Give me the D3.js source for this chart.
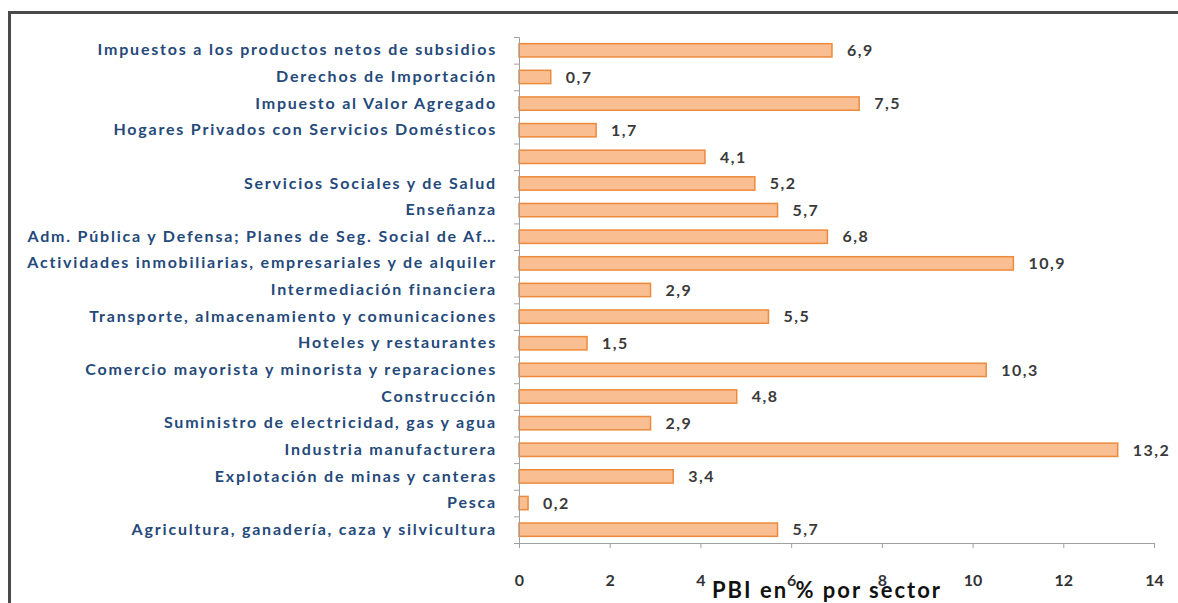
<!DOCTYPE html>
<html>
<head>
<meta charset="utf-8">
<script src="https://cdn.jsdelivr.net/npm/d3@7"></script>
<style>
  body { margin: 0; background: #fff; }
  svg { display: block; }
</style>
</head>
<body>
<div id="graph"></div>
<script>
// Categories, top to bottom
var sectors = [
  "Impuestos a los productos netos de subsidios",
  "Derechos de Importación",
  "Impuesto al Valor Agregado",
  "Hogares Privados con Servicios Domésticos",
  "",
  "Servicios Sociales y de Salud",
  "Enseñanza",
  "Adm. Pública y Defensa; Planes de Seg. Social de Af…",
  "Actividades inmobiliarias, empresariales y de alquiler",
  "Intermediación financiera",
  "Transporte, almacenamiento y comunicaciones",
  "Hoteles y restaurantes",
  "Comercio mayorista y minorista y reparaciones",
  "Construcción",
  "Suministro de electricidad, gas y agua",
  "Industria manufacturera",
  "Explotación de minas y canteras",
  "Pesca",
  "Agricultura, ganadería, caza y silvicultura"
];
var values = [6.9, 0.7, 7.5, 1.7, 4.1, 5.2, 5.7, 6.8, 10.9, 2.9, 5.5, 1.5, 10.3, 4.8, 2.9, 13.2, 3.4, 0.2, 5.7];
var xTicks = [0, 2, 4, 6, 8, 10, 12, 14];
var axisTitle = "PBI en % por sector";

var W = 1178, H = 603;
var margin = { top: 37, right: 24, bottom: 60, left: 519 },
    width = 635,
    height = 506;

var svg = d3.select("#graph").append("svg")
    .attr("width", W)
    .attr("height", H);

// chart frame
svg.append("rect")
    .attr("x", 9.5).attr("y", 12.5)
    .attr("width", W + 20).attr("height", H + 20)
    .attr("fill", "none")
    .attr("stroke", "#4a4a4a")
    .attr("stroke-width", 3);

var g = svg.append("g")
    .attr("transform", "translate(" + margin.left + "," + margin.top + ")");

var idx = d3.range(sectors.length);
var x = d3.scaleLinear().domain([0, 14]).range([0, width]);
var y = d3.scaleBand().domain(idx).range([0, height]).paddingInner(0.5).paddingOuter(0.25);
var yEdge = d3.scaleLinear().domain([0, sectors.length]).range([0, height]);

// bars
g.selectAll("rect.bar")
    .data(idx)
  .enter().append("rect")
    .attr("class", "bar")
    .attr("x", x(0))
    .attr("y", function(i) { return y(i); })
    .attr("width", function(i) { return x(values[i]); })
    .attr("height", y.bandwidth())
    .attr("fill", "#f9bf92")
    .attr("stroke", "#ee8a3c")
    .attr("stroke-width", 1.5);

// value labels
g.selectAll("text.val")
    .data(idx)
  .enter().append("text")
    .attr("class", "val")
    .attr("x", function(i) { return x(values[i]) + 15; })
    .attr("y", function(i) { return y(i) + y.bandwidth() / 2; })
    .attr("dy", "0.36em")
    .attr("font-family", "Lato, sans-serif")
    .attr("font-weight", "bold")
    .attr("font-size", 16)
    .attr("letter-spacing", 1.5)
    .attr("fill", "#3a3a3a")
    .text(function(i) { return String(values[i]).replace(".", ","); });

// Y axis: boundary ticks
var yAxis = g.append("g")
    .call(d3.axisLeft(yEdge).tickValues(d3.range(sectors.length + 1)).tickSize(5).tickFormat(""));
yAxis.selectAll("line, path").attr("stroke", "#a0a0a0");

// Y axis labels
var yLab = g.append("g")
    .call(d3.axisLeft(y).tickSize(0).tickPadding(22).tickFormat(function(i) { return sectors[i]; }));
yLab.select(".domain").remove();
yLab.selectAll("text")
    .attr("font-family", "Lato, sans-serif")
    .attr("font-weight", "bold")
    .attr("font-size", 16)
    .attr("letter-spacing", 1.8)
    .attr("fill", "#24497a");

// X axis
var xAxis = g.append("g")
    .attr("transform", "translate(0," + height + ")")
    .call(d3.axisBottom(x).tickValues(xTicks).tickSize(5).tickPadding(27));
xAxis.selectAll("line, path").attr("stroke", "#a0a0a0");
xAxis.selectAll("text")
    .attr("font-family", "Lato, sans-serif")
    .attr("font-weight", "bold")
    .attr("font-size", 16)
    .attr("fill", "#333");

// axis title
svg.append("text")
    .attr("x", 827)
    .attr("y", 598)
    .attr("text-anchor", "middle")
    .attr("font-family", "Lato, sans-serif")
    .attr("font-weight", "bold")
    .attr("font-size", 22)
    .attr("letter-spacing", 2)
    .attr("fill", "#111")
    .text(axisTitle);
</script>
</body>
</html>
